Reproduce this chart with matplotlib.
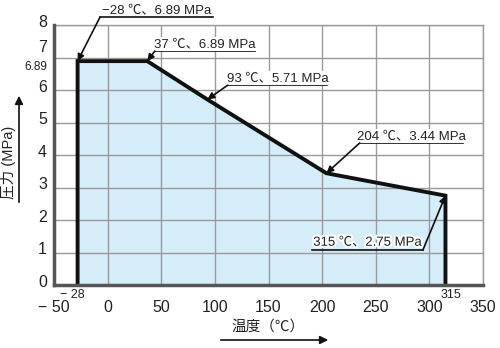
import matplotlib
matplotlib.use("Agg")
import matplotlib.pyplot as plt
import matplotlib.patheffects as pe
from matplotlib.transforms import ScaledTranslation

# 温度-圧力 曲線のデータ
temps = [-28, -28, 37, 93, 204, 315, 315]
pressures = [0, 6.89, 6.89, 5.71, 3.44, 2.75, 0]

xticks = [-50, 0, 50, 100, 150, 200, 250, 300, 350]
xlabels = ["\u2212 50", "0", "50", "100", "150", "200", "250", "300", "350"]
yticks = [0, 1, 2, 3, 4, 5, 6, 7, 8]

# 注記: (点x, 点y, テキスト)
notes = [
    (-28, 6.89, "\u221228 \u2103\u30016.89 MPa"),
    (37, 6.89, "37 \u2103\u30016.89 MPa"),
    (93, 5.71, "93 \u2103\u30015.71 MPa"),
    (204, 3.44, "204 \u2103\u30013.44 MPa"),
    (315, 2.75, "315 \u2103\u30012.75 MPa"),
]
# 引出線の曲がり点と下線の範囲 (データ座標)
elbows = [(-7, 8.25), (44, 7.2), (112, 6.15), (235, 4.37), (294, 1.08)]
underlines = [(-7, 98), (44, 137), (112, 205), (235, 331), (191, 294)]

plt.rcParams['font.family'] = ['Liberation Sans', 'Noto Sans CJK JP', 'DejaVu Sans']

fig = plt.figure(figsize=(5.0, 3.48), dpi=100)
ax = fig.add_axes([0.108, 0.181, 0.858, 0.747])

ax.fill_between(temps, pressures, color="#d5ecf9", zorder=1)
ax.plot(temps, pressures, color="#111111", lw=2.8, zorder=3, solid_joinstyle="miter")

ax.set_xlim(-50, 350)
ax.set_ylim(0, 8)
ax.set_xticks(xticks)
ax.set_xticklabels(xlabels)
ax.set_yticks(yticks)
ax.tick_params(length=0, labelsize=11.5, colors="#222222")
ax.tick_params(axis="x", pad=11)
ax.tick_params(axis="y", pad=5)
for v, lab in zip(yticks, ax.get_yticklabels()):
    up = 8 if v == 7 else 3  # 「7」は6.89の上に少し上げる
    lab.set_transform(lab.get_transform() + ScaledTranslation(0, up / 72, fig.dpi_scale_trans))
ax.grid(True, color="#9a9a9a", lw=1, zorder=2)
ax.set_axisbelow(False)
for s in ["top", "right"]:
    ax.spines[s].set_color("#9a9a9a")
    ax.spines[s].set_linewidth(1)
for s in ["left", "bottom"]:
    ax.spines[s].set_color("#555555")
    ax.spines[s].set_linewidth(2.5)
    ax.spines[s].set_zorder(4)

for i, ((px, py, txt), (ex, ey), (u0, u1)) in enumerate(zip(notes, elbows, underlines)):
    ax.plot([u0, u1], [ey, ey], color="#111111", lw=1.2, zorder=5, clip_on=False)
    ax.annotate("", xy=(px, py), xytext=(ex, ey),
                arrowprops=dict(arrowstyle="-|>", color="#111111", lw=1.2,
                                mutation_scale=10, shrinkA=0, shrinkB=0),
                zorder=6, annotation_clip=False)
    t = ax.annotate(txt, xy=((u0 + u1) / 2, ey), xytext=(0, 3), textcoords="offset points",
                    ha="center", va="baseline", fontsize=9.5, color="#222222",
                    zorder=5, annotation_clip=False)
    if i < 4:
        t.set_bbox(dict(facecolor="white", edgecolor="none", pad=0.5))
    else:
        t.set_path_effects([pe.withStroke(linewidth=3, foreground="white")])

# 特別な目盛値
ax.annotate("6.89", xy=(-50, 6.89), xytext=(-5, -4), textcoords="offset points",
            ha="right", va="center", fontsize=8.5, color="#222222", annotation_clip=False)
ax.annotate("\u2212 28", xy=(-28, 0), xytext=(-4, -3), textcoords="offset points",
            ha="center", va="top", fontsize=9, color="#222222", annotation_clip=False)
ax.annotate("315", xy=(315, 0), xytext=(4, -3), textcoords="offset points",
            ha="center", va="top", fontsize=9, color="#222222", annotation_clip=False)

# 軸ラベルと矢印
fig.text(9 / 500, 1 - 162 / 348, "圧力 (MPa)", rotation=90, ha="center", va="center",
         fontsize=10.5, color="#222222")
fig.text(268 / 500, 1 - 327 / 348, "温度（℃）", ha="center", va="center",
         fontsize=10.5, color="#222222")
fig.patches.append(matplotlib.patches.FancyArrowPatch(
    (19 / 500, 1 - 205 / 348), (19 / 500, 1 - 93 / 348), transform=fig.transFigure,
    arrowstyle="-|>", mutation_scale=12, color="#111111", lw=1.2))
fig.patches.append(matplotlib.patches.FancyArrowPatch(
    (218 / 500, 1 - 340 / 348), (331 / 500, 1 - 340 / 348), transform=fig.transFigure,
    arrowstyle="-|>", mutation_scale=12, color="#111111", lw=1.2))

fig.savefig("out.png", dpi=100, facecolor="white")
